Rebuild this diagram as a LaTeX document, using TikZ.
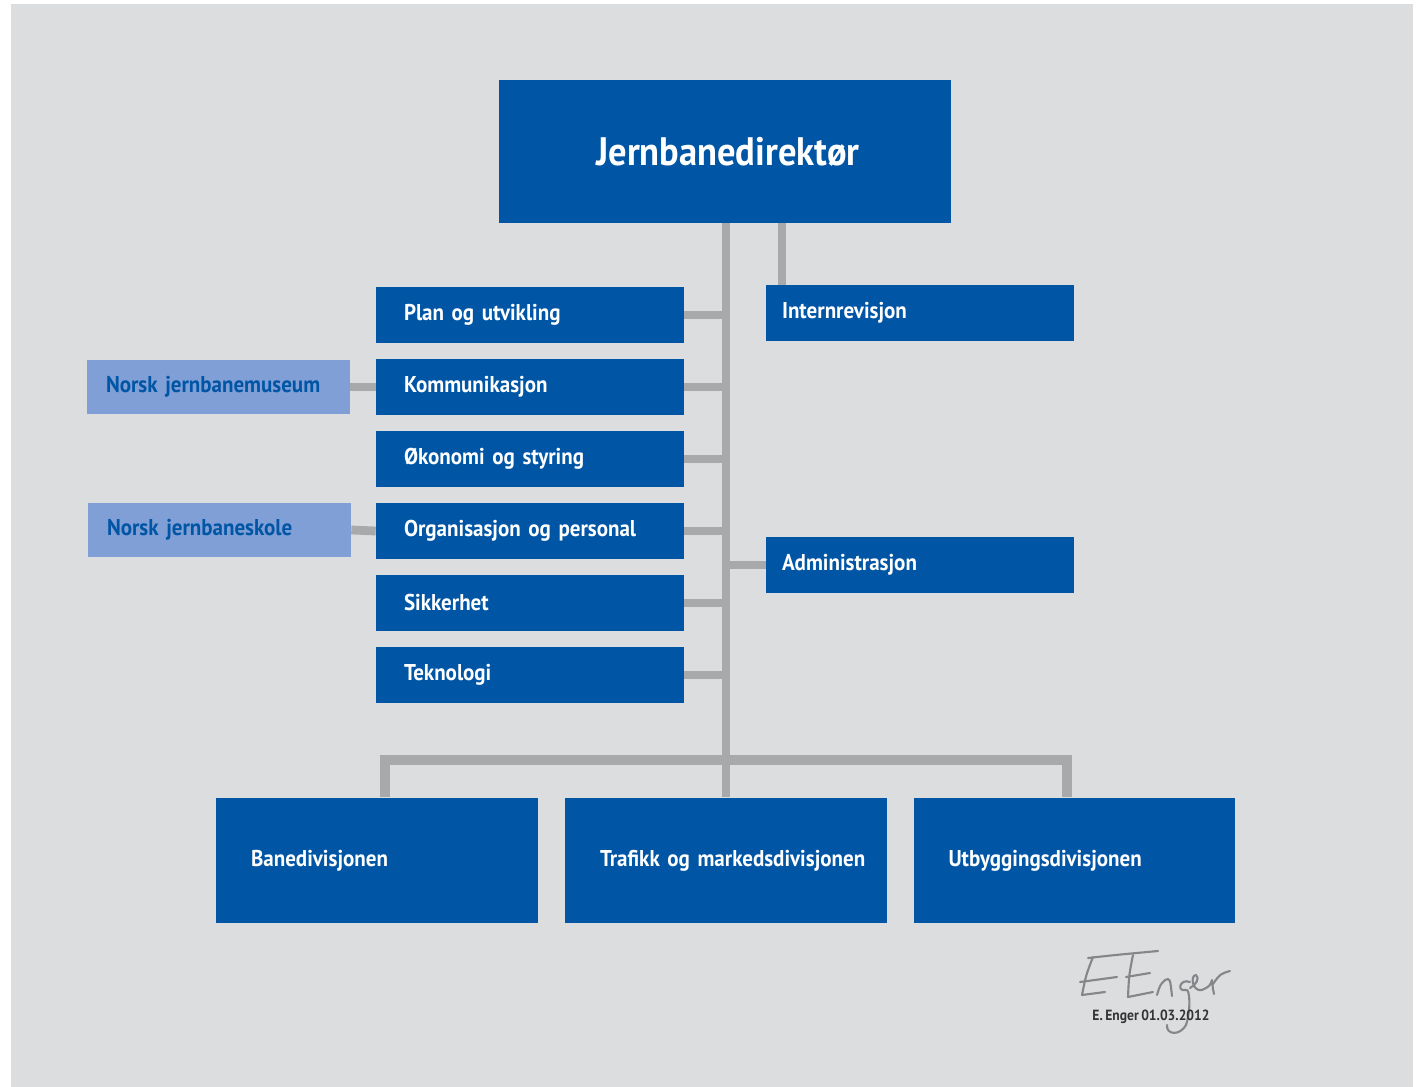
\documentclass[tikz,border=0pt]{standalone}
\usepackage{fontspec}
\setmainfont{PT Sans}[FakeStretch=0.92, WordSpace=0.72]
\usepackage{xcolor}
\definecolor{jbvblue}{HTML}{0055A5}
\definecolor{jbvlight}{HTML}{809FD6}
\definecolor{jbvgrey}{HTML}{A8A9AB}
\definecolor{jbvback}{HTML}{DCDDDE}
\definecolor{signgrey}{HTML}{858689}

\tikzset{
    unit box/.style={fill=jbvblue, text=white, font=\bfseries\fontsize{13pt}{15pt}\selectfont,
        inner ysep=0pt, align=left},
    staff box/.style={unit box, minimum height=1.12cm, inner xsep=0.56cm, text width=5.04cm},
    side box/.style={unit box, minimum height=1.12cm, inner xsep=0.32cm, text width=5.52cm},
    museum box/.style={unit box, fill=jbvlight, text=jbvblue, minimum height=1.1cm,
        inner xsep=0.38cm, text width=4.5cm},
    division box/.style={unit box, minimum height=2.52cm, inner xsep=0pt, text width=6.44cm,
        execute at begin node={\hspace*{0.7cm}}},
    conn/.style={draw=jbvgrey, line width=5pt}
}

\begin{document}
\begin{tikzpicture}[x=0.02cm, y=-0.02cm]
            \useasboundingbox (0,0) rectangle (1420,1087);
            \fill[white] (0,0) rectangle (1420,1087);
            \fill[jbvback] (11,4) rectangle (1413,1087);

            % trunk and bar positions
            \coordinate (trunk) at (726,760);
            \coordinate (revline) at (782,0);
            \coordinate (lbar) at (385,760);
            \coordinate (rbar) at (1067,760);

            \node[unit box, minimum width=9.04cm, minimum height=2.86cm, align=center,
                font=\bfseries\fontsize{22.6pt}{26pt}\selectfont] (dir) at (725,151.5)
                {\hspace*{0.12cm}Jernbanedirektør};

            \node[staff box] (plan) at (530,315) {Plan og utvikling};
            \node[staff box] (komm) at (530,387) {Kommunikasjon};
            \node[staff box] (okon) at (530,459) {Økonomi og styring};
            \node[staff box] (org) at (530,531) {Organisasjon og personal};
            \node[staff box] (sikk) at (530,603) {Sikkerhet};
            \node[staff box] (tekn) at (530,675) {Teknologi};

            \node[side box] (intern) at (920,313) {Internrevisjon};
            \node[side box] (admin) at (920,565) {Administrasjon};

            \node[museum box] (museum) at (218.5,387) {Norsk jernbanemuseum};
            \node[museum box] (skole) at (219.5,530) {Norsk jernbaneskole};

            \node[division box] (bane) at (377,860.5) {Banedivisjonen};
            \node[division box] (trafikk) at (726,860.5) {Trafikk og markedsdivisjonen};
            \node[division box] (utb) at (1074.5,860.5) {Utbyggingsdivisjonen};

            % connectors
            \draw[conn] (dir.south -| trunk) -- (trunk);
            \draw[conn] (dir.south -| revline) -- (intern.north -| revline);
            \draw[conn] (plan.east) -- (plan.east -| trunk);
            \draw[conn] (komm.east) -- (komm.east -| trunk);
            \draw[conn] (okon.east) -- (okon.east -| trunk);
            \draw[conn] (org.east) -- (org.east -| trunk);
            \draw[conn] (sikk.east) -- (sikk.east -| trunk);
            \draw[conn] (tekn.east) -- (tekn.east -| trunk);
            \draw[conn] (admin.west) -- (admin.west -| trunk);
            \draw[conn] (museum.east) -- (komm.west);
            \draw[conn] (skole.east) -- (org.west);
            \draw[conn, line width=6pt] (bane.north -| lbar) -- (lbar) -- (rbar) -- (utb.north -| rbar);
            \draw[conn] (trunk) -- (trafikk.north -| trunk);

            % signature
            \begin{scope}[draw=signgrey, line width=1.2pt, line cap=round, line join=round]
            \draw (1088,958) .. controls (1115,955) .. (1158,951);
            \draw (1093,957) .. controls (1086,975) .. (1082,995) -- (1105,992);
            \draw (1080,982) -- (1117,977);
            \draw (1133,955) .. controls (1129,975) .. (1128,997) -- (1153,992);
            \draw (1126,977) -- (1150,973);
            \draw (1157,995) .. controls (1160,985) .. (1165,980) .. controls (1170,978) .. (1172,996);
            \draw (1190,982) .. controls (1180,978) and (1176,992) .. (1186,990)
                .. controls (1190,988) and (1191,1010) .. (1186,1025)
                .. controls (1180,1036) and (1166,1035) .. (1167,1025);
            \draw (1190,988) .. controls (1196,985) and (1200,978) .. (1196,975)
                .. controls (1190,975) and (1192,992) .. (1202,990)
                .. controls (1210,986) .. (1212,980) .. controls (1213,990) .. (1214,994);
            \draw (1213,984) .. controls (1220,974) .. (1230,971);
            \end{scope}
            \node[font=\fontsize{8.4pt}{10pt}\selectfont\bfseries, text=black!80, inner sep=0pt]
                (sign) at (1151,1017) {E. Enger 01.03.2012};
        \end{tikzpicture}
\end{document}
